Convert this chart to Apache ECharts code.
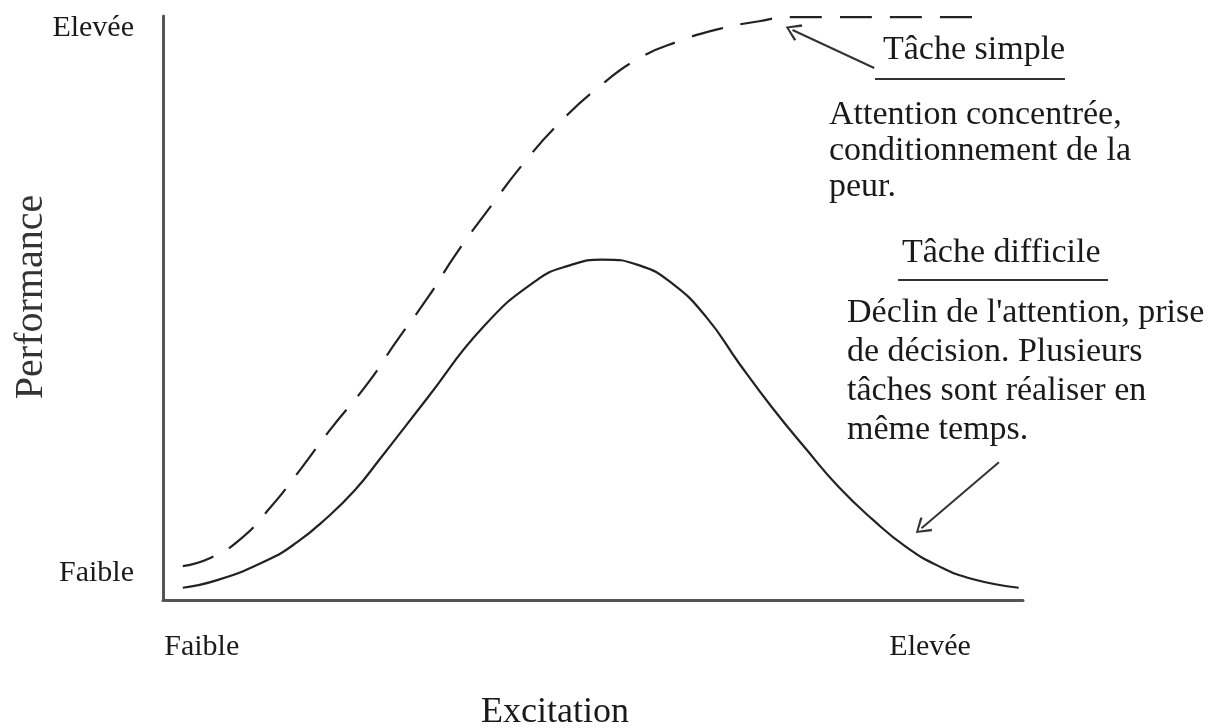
<!DOCTYPE html>
<html lang="fr">
<head>
    <meta charset="utf-8"/>
    <title>Performance et excitation</title>
    <script src="https://cdn.jsdelivr.net/npm/echarts@6/dist/echarts.min.js"></script>
</head>
<body style="margin: 0; background: #fff">
<div id="chart" style="width: 1224px; height: 728px"></div>
<script>
    // excitation (0-100) / performance (0-100)
    const simpleX = [2.3, 5.5, 8.9, 12.4, 15.9, 19.4, 23.8, 27.2, 30.8, 34.1, 38.0, 42.0, 46.1, 50.8, 55.4, 60.0, 64.7, 69.3, 72.8, 95.5];
    const simpleY = [5.8, 7.2, 10.3, 15.7, 22.2, 29.1, 37.1, 44.4, 51.8, 59.3, 67.2, 74.9, 81.7, 88.0, 92.8, 95.7, 97.8, 99.1, 99.8, 99.8];

    const hardX = [2.3, 6.3, 12.1, 15.6, 19.0, 22.3, 25.2, 30.7, 37.2, 43.4, 47.3, 51.1, 55.4, 59.2, 63.2, 67.0, 70.8, 74.8, 78.6, 82.5, 86.4, 90.2, 94.1, 99.5];
    const hardY = [2.1, 3.4, 6.8, 9.9, 14.0, 18.8, 24.1, 34.5, 46.7, 54.7, 57.3, 58.3, 57.3, 54.2, 48.4, 40.5, 33.0, 25.8, 19.3, 13.8, 9.1, 5.8, 3.6, 2.1];

    // axis tick labels
    const xTickValues = [4.5, 89.2];
    const xTickLabels = ['Faible', 'Elevée'];
    const yTickValues = [4.6, 97.9];
    const yTickLabels = ['Faible', 'Elevée'];

    // arrows: [from, to]
    const arrowSimple = [[82.7, 91.1], [73.2, 97.6]];
    const arrowHard = [[97.2, 23.6], [88.2, 12.3]];

    const FONT = '"Liberation Serif", "DejaVu Serif", serif';
    const INK = '#1a1a1a';
    const chevron = 'path://M5,0L10,8.5L9,9.5L5,2.2L1,9.5L0,8.5Z';

    const zip = (xs, ys) => xs.map((x, i) => [x, ys[i]]);

    function arrowLine(a) {
        return {
            silent: true,
            symbol: ['none', chevron],
            symbolSize: [18, 15],
            label: {show: false},
            lineStyle: {color: '#333', width: 2, type: 'solid'},
            data: [[{coord: a[0]}, {coord: a[1]}]]
        };
    }

    function tickLabel(values, labels) {
        return function (v) {
            const i = values.findIndex(t => Math.abs(t - v) < 1e-6);
            return i >= 0 ? labels[i] : '';
        };
    }

    const chart = echarts.init(document.getElementById('chart'));

    chart.setOption({
        animation: false,
        backgroundColor: '#fff',
        grid: {left: 163, right: 201, top: 16, bottom: 128, outerBoundsMode: 'none', containLabel: false},
        xAxis: {
            type: 'value', min: 0, max: 100,
            name: 'Excitation',
            nameLocation: 'middle',
            nameGap: 95,
            nameMoveOverlap: false,
            nameTextStyle: {fontFamily: FONT, fontSize: 36, color: INK, padding: [0, 76, 0, 0]},
            axisLine: {show: true, lineStyle: {color: '#555', width: 3}},
            axisTick: {show: false},
            splitLine: {show: false},
            axisLabel: {
                customValues: xTickValues,
                formatter: tickLabel(xTickValues, xTickLabels),
                margin: 32,
                fontFamily: FONT, fontSize: 30, color: INK
            }
        },
        yAxis: {
            type: 'value', min: 0, max: 100,
            name: 'Performance',
            nameLocation: 'middle',
            nameRotate: 90,
            nameGap: 112,
            nameMoveOverlap: false,
            nameTextStyle: {fontFamily: FONT, fontSize: 40, color: '#333', padding: [0, 0, 0, 22]},
            axisLine: {show: true, lineStyle: {color: '#555', width: 3}},
            axisTick: {show: false},
            splitLine: {show: false},
            axisLabel: {
                customValues: yTickValues,
                formatter: tickLabel(yTickValues, yTickLabels),
                margin: 29,
                fontFamily: FONT, fontSize: 30, color: INK
            }
        },
        series: [
            {
                name: 'Tâche simple',
                type: 'line',
                smooth: 0.5,
                showSymbol: false,
                data: zip(simpleX, simpleY),
                lineStyle: {color: '#222', width: 2.2, type: [32, 18]},
                markLine: arrowLine(arrowSimple)
            },
            {
                name: 'Tâche difficile',
                type: 'line',
                smooth: 0.5,
                showSymbol: false,
                data: zip(hardX, hardY),
                lineStyle: {color: '#222', width: 2.2},
                markLine: arrowLine(arrowHard)
            }
        ],
        graphic: [
            {
                type: 'text', x: 883, y: 50.5,
                style: {text: 'Tâche simple', font: '34px ' + FONT, fill: INK, textVerticalAlign: 'middle'}
            },
            {
                type: 'line', shape: {x1: 875, y1: 79, x2: 1065, y2: 79},
                style: {stroke: '#333', lineWidth: 2}
            },
            {
                type: 'text', x: 829, y: 97.5,
                style: {
                    text: 'Attention concentrée,\nconditionnement de la\npeur.',
                    font: '34px ' + FONT, fill: INK, lineHeight: 36, textVerticalAlign: 'top'
                }
            },
            {
                type: 'text', x: 902, y: 253.5,
                style: {text: 'Tâche difficile', font: '34px ' + FONT, fill: INK, textVerticalAlign: 'middle'}
            },
            {
                type: 'line', shape: {x1: 898, y1: 280, x2: 1108, y2: 280},
                style: {stroke: '#333', lineWidth: 2}
            },
            {
                type: 'text', x: 847, y: 294,
                style: {
                    text: "Déclin de l'attention, prise\nde décision. Plusieurs\ntâches sont réaliser en\nmême temps.",
                    font: '34px ' + FONT, fill: INK, lineHeight: 39, textVerticalAlign: 'top'
                }
            }
        ]
    });
</script>
</body>
</html>
